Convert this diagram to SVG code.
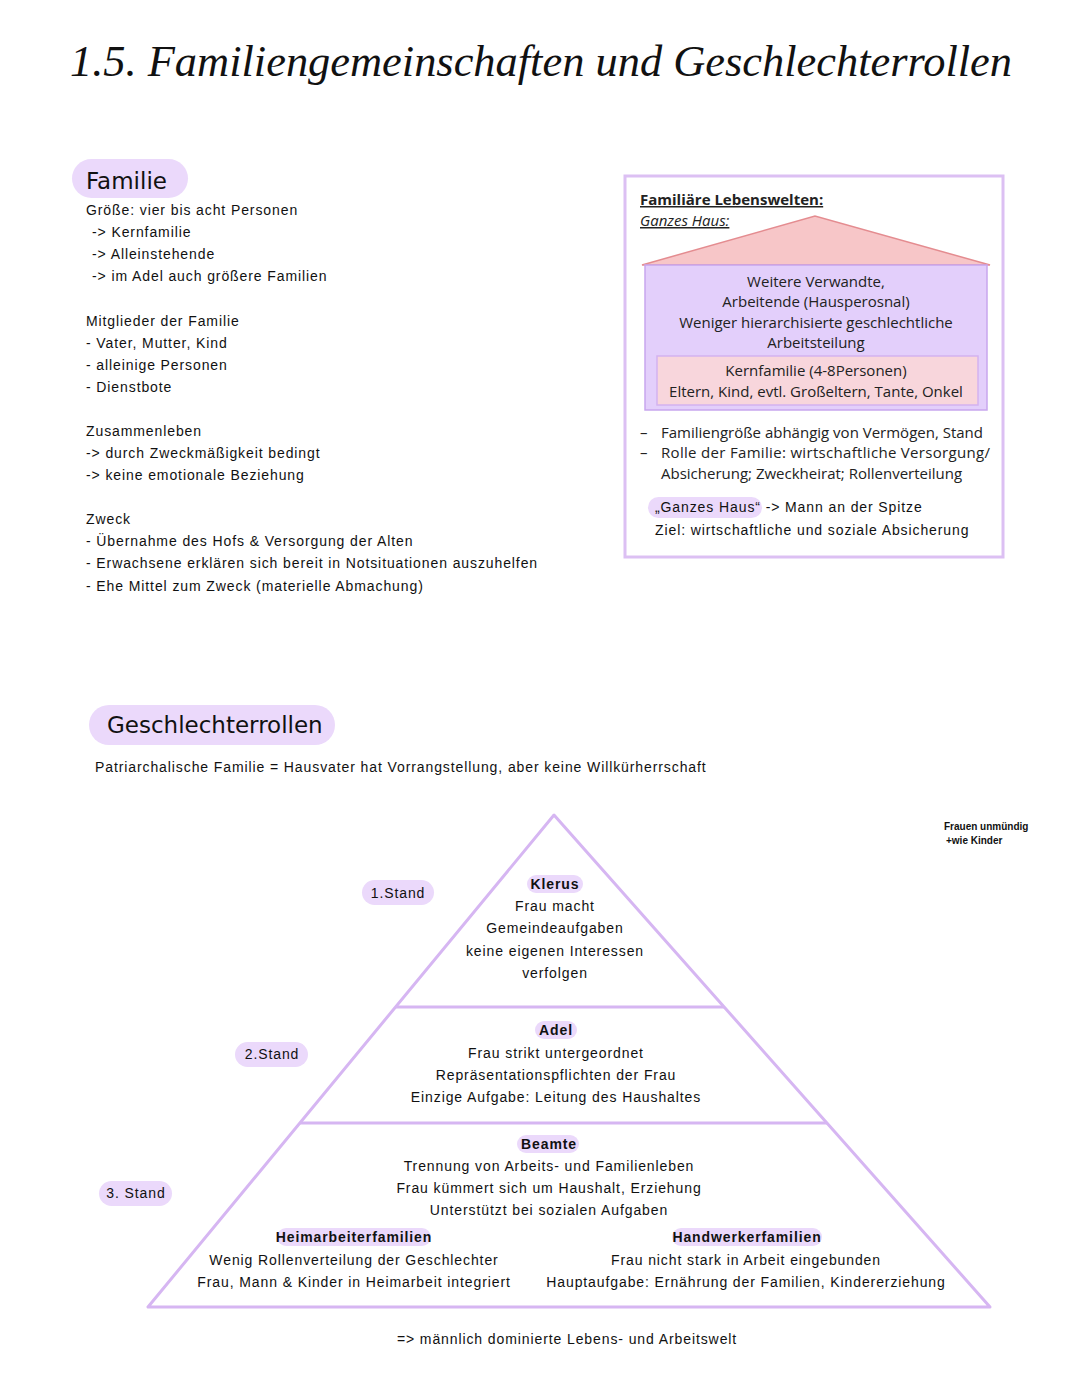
<svg xmlns="http://www.w3.org/2000/svg" width="1080" height="1394" viewBox="0 0 1080 1394">
<style>
.t{font-family:"Liberation Sans",Arial,sans-serif;font-size:14px;letter-spacing:0.9px;fill:#111}
.c{text-anchor:middle}
.b{font-weight:bold}
.pill{fill:#ebd9fb}
.h{font-family:"DejaVu Sans","Liberation Sans",sans-serif;font-size:23px;fill:#111}
.cal{font-family:"Open Sans","Liberation Sans",sans-serif;font-size:15px;fill:#222}
.pl{fill:none;stroke:#d6b6f2;stroke-width:3;stroke-linejoin:round}
</style>
<rect width="1080" height="1394" fill="#fff"/>
<text x="70" y="76" font-family="Liberation Serif,serif" font-style="italic" font-size="44" textLength="942" lengthAdjust="spacingAndGlyphs" fill="#111">1.5. Familiengemeinschaften und Geschlechterrollen</text>

<g id="familie">
<rect class="pill" x="72" y="159" width="116" height="39" rx="19.5"/>
<text class="h" x="86" y="189">Familie</text>
<text class="t" x="86" y="215">Größe: vier bis acht Personen</text>
<text class="t" x="92" y="237">-&gt; Kernfamilie</text>
<text class="t" x="92" y="259">-&gt; Alleinstehende</text>
<text class="t" x="92" y="281">-&gt; im Adel auch größere Familien</text>
<text class="t" x="86" y="326">Mitglieder der Familie</text>
<text class="t" x="86" y="348">- Vater, Mutter, Kind</text>
<text class="t" x="86" y="370">- alleinige Personen</text>
<text class="t" x="86" y="392">- Dienstbote</text>
<text class="t" x="86" y="436">Zusammenleben</text>
<text class="t" x="86" y="458">-&gt; durch Zweckmäßigkeit bedingt</text>
<text class="t" x="86" y="480">-&gt; keine emotionale Beziehung</text>
<text class="t" x="86" y="524">Zweck</text>
<text class="t" x="86" y="546">- Übernahme des Hofs &amp; Versorgung der Alten</text>
<text class="t" x="86" y="568">- Erwachsene erklären sich bereit in Notsituationen auszuhelfen</text>
<text class="t" x="86" y="591">- Ehe Mittel zum Zweck (materielle Abmachung)</text>
</g>

<g id="lebenswelten">
<rect x="625" y="176" width="378" height="381" fill="#fff" stroke="#dcc0f3" stroke-width="3"/>
<text class="cal b" x="640" y="205" font-size="15" text-decoration="underline">Familiäre Lebenswelten:</text>
<text class="cal" x="640" y="226" font-size="14" font-style="italic" text-decoration="underline">Ganzes Haus:</text>
<polygon points="642,265 815,216 990,265" fill="#f7c6c8" stroke="#e48c90" stroke-width="1.5"/>
<rect x="645" y="265" width="342" height="145" fill="#e3cffb" stroke="#c8a6ee" stroke-width="1.5"/>
<text class="cal c" x="816" y="287">Weitere Verwandte,</text>
<text class="cal c" x="816" y="307">Arbeitende (Hausperosnal)</text>
<text class="cal c" x="816" y="328">Weniger hierarchisierte geschlechtliche</text>
<text class="cal c" x="816" y="348">Arbeitsteilung</text>
<rect x="657" y="356" width="321" height="49" fill="#f8d6dc" stroke="#d4b2f0" stroke-width="1.5"/>
<text class="cal c" x="816" y="376">Kernfamilie (4-8Personen)</text>
<text class="cal c" x="816" y="397">Eltern, Kind, evtl. Großeltern, Tante, Onkel</text>
<text class="cal" x="640" y="438" fill="#555">–</text>
<text class="cal" x="661" y="438">Familiengröße abhängig von Vermögen, Stand</text>
<text class="cal" x="640" y="458" fill="#999">–</text>
<text class="cal" x="661" y="458" textLength="329" lengthAdjust="spacing">Rolle der Familie: wirtschaftliche Versorgung/</text>
<text class="cal" x="661" y="479">Absicherung; Zweckheirat; Rollenverteilung</text>
<rect class="pill" x="648" y="497" width="114" height="21" rx="10.5"/>
<text class="t" x="655" y="512">„Ganzes Haus“ -&gt; Mann an der Spitze</text>
<text class="t" x="655" y="535">Ziel: wirtschaftliche und soziale Absicherung</text>
</g>

<g id="geschlechterrollen">
<rect class="pill" x="89" y="705" width="246" height="40" rx="20"/>
<text class="h" x="107" y="733">Geschlechterrollen</text>
<text class="t" x="95" y="772">Patriarchalische Familie = Hausvater hat Vorrangstellung, aber keine Willkürherrschaft</text>
</g>

<g id="notiz">
<text x="944" y="830" font-family="Liberation Sans,sans-serif" font-size="10" font-weight="bold" fill="#111">Frauen unmündig</text>
<text x="946" y="844" font-family="Liberation Sans,sans-serif" font-size="10" font-weight="bold" fill="#111">+wie Kinder</text>
</g>

<g id="connectors">
<polygon class="pl" points="554,815 148,1307 990,1307"/>
<line class="pl" x1="396" y1="1007" x2="724" y2="1007"/>
<line class="pl" x1="300" y1="1123" x2="827" y2="1123"/>
</g>

<g id="stand1">
<rect class="pill" x="362" y="880" width="72" height="25" rx="12.5"/>
<text class="t c" x="398" y="898">1.Stand</text>
</g>
<g id="stand2">
<rect class="pill" x="235" y="1042" width="73" height="25" rx="12.5"/>
<text class="t c" x="272" y="1059">2.Stand</text>
</g>
<g id="stand3">
<rect class="pill" x="99" y="1181" width="73" height="25" rx="12.5"/>
<text class="t c" x="136" y="1198">3. Stand</text>
</g>

<g id="klerus">
<rect class="pill" x="527" y="875" width="56" height="18" rx="9"/>
<text class="t c b" x="555" y="889">Klerus</text>
<text class="t c" x="555" y="911">Frau macht</text>
<text class="t c" x="555" y="933">Gemeindeaufgaben</text>
<text class="t c" x="555" y="956">keine eigenen Interessen</text>
<text class="t c" x="555" y="978">verfolgen</text>
</g>
<g id="adel">
<rect class="pill" x="535" y="1021" width="42" height="18" rx="9"/>
<text class="t c b" x="556" y="1035">Adel</text>
<text class="t c" x="556" y="1058">Frau strikt untergeordnet</text>
<text class="t c" x="556" y="1080">Repräsentationspflichten der Frau</text>
<text class="t c" x="556" y="1102">Einzige Aufgabe: Leitung des Haushaltes</text>
</g>
<g id="beamte">
<rect class="pill" x="517" y="1135" width="62" height="18" rx="9"/>
<text class="t c b" x="549" y="1149">Beamte</text>
<text class="t c" x="549" y="1171">Trennung von Arbeits- und Familienleben</text>
<text class="t c" x="549" y="1193">Frau kümmert sich um Haushalt, Erziehung</text>
<text class="t c" x="549" y="1215">Unterstützt bei sozialen Aufgaben</text>
</g>
<g id="heimarbeiter">
<rect class="pill" x="277" y="1228" width="154" height="18" rx="9"/>
<text class="t c b" x="354" y="1242">Heimarbeiterfamilien</text>
<text class="t c" x="354" y="1265">Wenig Rollenverteilung der Geschlechter</text>
<text class="t c" x="354" y="1287">Frau, Mann &amp; Kinder in Heimarbeit integriert</text>
</g>
<g id="handwerker">
<rect class="pill" x="672" y="1228" width="150" height="18" rx="9"/>
<text class="t c b" x="747" y="1242">Handwerkerfamilien</text>
<text class="t c" x="746" y="1265">Frau nicht stark in Arbeit eingebunden</text>
<text class="t c" x="746" y="1287">Hauptaufgabe: Ernährung der Familien, Kindererziehung</text>
</g>

<text class="t c" x="567" y="1344">=&gt; männlich dominierte Lebens- und Arbeitswelt</text>
</svg>
